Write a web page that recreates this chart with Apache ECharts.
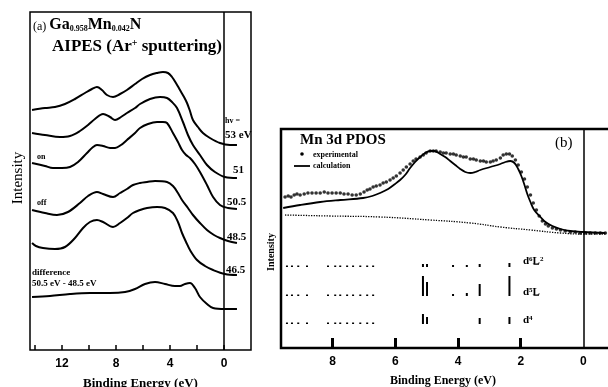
<!DOCTYPE html>
<html><head><meta charset="utf-8">
<script src="https://cdn.jsdelivr.net/npm/echarts@6/dist/echarts.min.js"></script>
<style>html,body{margin:0;padding:0;background:#fff}#c{width:608px;height:387px}</style>
</head><body><div id="c"></div>
<script>
// ---------- Panel (a): AIPES spectra, [binding energy (eV), intensity (arb.)] ----------
const curve53 = [[14.22,240],[13.26,242],[12.52,243],[11.78,246],[11.04,251],[10.30,257],[9.78,261],[9.41,263],[9.04,260],[8.67,255],[8.22,253],[7.70,256],[7.19,260],[6.59,266],[6.07,271],[5.48,275],[4.96,277],[4.52,278],[4.15,277],[3.85,273],[3.56,267],[3.26,260],[2.96,253],[2.74,247],[2.52,239],[2.30,230],[1.93,223],[1.56,217],[1.04,212],[0.30,207],[-0.44,205],[-0.96,205]];
const curve51 = [[14.22,217],[13.26,215],[12.15,213],[11.41,214],[10.67,219],[10.07,225],[9.56,231],[8.96,236],[8.44,233],[8.07,230],[7.63,233],[7.19,237],[6.59,242],[6.22,246],[5.48,251],[4.74,253],[4.22,252],[3.85,248],[3.48,242],[3.04,228],[2.67,215],[2.30,205],[1.78,195],[1.26,185],[0.67,178],[-0.07,173],[-0.96,172]];
const curveOn = [[14.22,187],[13.26,184],[12.67,182],[12.0,182],[11.41,183],[10.81,188],[10.15,197],[9.70,203],[9.41,205],[8.96,204],[8.44,202],[8.07,202],[7.63,205],[7.19,210],[6.59,217],[6.22,222],[5.63,226],[4.96,228],[4.52,228],[4.22,227],[3.78,217],[3.41,208],[3.11,200],[2.81,195],[2.52,192],[2.15,186],[1.78,178],[1.26,165],[0.81,153],[0.30,145],[-0.30,142],[-0.96,141]];
const curveOff = [[14.22,140],[13.26,137],[12.37,135],[11.56,138],[10.67,147],[10.07,154],[9.41,158],[8.96,156],[8.22,153],[7.70,157],[7.19,161],[6.74,165],[6.22,167],[5.70,168],[5.11,169],[4.22,168],[3.78,164],[3.41,157],[3.11,150],[2.67,142],[2.30,135],[1.78,127],[1.26,120],[0.74,115],[0.30,112],[-0.30,109],[-0.96,107]];
const curve465 = [[14.22,107],[13.93,104],[13.41,102],[12.52,101],[11.78,103],[11.04,112],[10.44,122],[9.93,128],[9.41,130],[8.96,128],[8.22,123],[7.70,127],[7.19,132],[6.74,137],[6.22,140],[5.70,142],[4.96,143],[4.37,142],[3.78,137],[3.41,128],[3.11,117],[2.81,108],[2.52,100],[2.0,90],[1.41,84],[0.81,80],[-0.07,76],[-0.96,75]];
const curveDiff = [[14.22,53],[12.89,54],[11.41,56],[9.93,57],[8.44,57],[7.33,58],[6.59,61],[5.85,66],[5.11,68],[4.37,66],[3.63,64],[3.26,64],[2.89,66],[2.52,67],[2.15,62],[1.78,53],[1.26,46],[0.81,42],[-0.07,41],[-0.96,41]];
const aTickLabels = [0,4,8,12];
const aTicks = [0,2,4,6,8,10,12,14];

// ---------- Panel (b): Mn 3d PDOS ----------
const expPoints = [[9.52,151],[9.42,152],[9.33,151],[9.23,153],[9.14,154],[9.04,153],[8.91,154],[8.79,155],[8.66,155],[8.53,155],[8.40,155],[8.27,156],[8.15,155],[8.02,155],[7.89,155],[7.76,155],[7.64,154],[7.51,154],[7.38,153],[7.25,153],[7.12,154],[7.00,156],[6.90,158],[6.81,159],[6.71,161],[6.61,162],[6.49,163],[6.39,165],[6.29,166],[6.17,168],[6.07,170],[5.97,172],[5.85,175],[5.75,178],[5.65,181],[5.53,184],[5.43,187],[5.34,189],[5.21,191],[5.11,193],[5.02,195],[4.89,197],[4.79,197],[4.70,197],[4.57,196],[4.47,195],[4.38,195],[4.25,194],[4.15,194],[4.06,193],[3.93,192],[3.83,191],[3.74,191],[3.61,189],[3.51,189],[3.42,188],[3.29,187],[3.19,187],[3.10,186],[2.97,186],[2.88,187],[2.78,188],[2.65,190],[2.56,193],[2.46,194],[2.36,194],[2.27,192],[2.17,188],[2.08,183],[1.98,176],[1.88,169],[1.79,161],[1.69,153],[1.60,145],[1.50,138],[1.41,132],[1.31,127],[1.21,124],[1.12,122],[0.99,120],[0.86,119],[0.73,118],[0.58,117],[0.42,116],[0.26,116],[0.10,115],[-0.06,115],[-0.22,115],[-0.38,115],[-0.54,115],[-0.70,115]];
const calcLine = [[9.58,140],[9.04,143],[8.40,146],[7.76,148],[7.03,150],[6.74,152],[6.49,155],[6.23,159],[6.01,164],[5.85,168],[5.69,173],[5.53,180],[5.37,186],[5.21,191],[5.05,195],[4.89,197],[4.76,197],[4.57,194],[4.41,191],[4.25,187],[4.09,183],[3.93,179],[3.77,176],[3.61,175],[3.45,176],[3.29,178],[2.97,181],[2.65,184],[2.49,186],[2.33,187],[2.20,185],[2.08,179],[1.98,172],[1.88,163],[1.79,154],[1.69,146],[1.57,138],[1.37,131],[1.21,126],[0.99,122],[0.73,119],[0.42,117],[0,116],[-0.70,115]];
const bgLine = [[9.52,133],[8.08,132],[6.49,131],[4.89,128],[3.61,125],[2.65,121],[1.69,118],[0.73,115],[0,114],[-0.70,114]];
// stick spectra: [energy, height], drawn up from each row's baseline
const leftStickE = [9.46,9.30,9.10,8.82,8.15,7.92,7.76,7.54,7.35,7.12,6.90,6.71];
const d6L2Base = 81, d5LBase = 52, d4Base = 24;
const d6L2Sticks = [[5.12,3],[4.99,3],[4.16,2],[3.72,2],[3.31,3],[2.36,4]];
const d5LSticks = [[5.12,20],[4.99,14],[4.16,2],[3.72,3],[3.31,12],[2.36,20]];
const d4Sticks = [[5.12,10],[4.99,7],[3.31,6],[2.36,7]];
const bTickLabels = [0,2,4,6,8];
const bTicks = [2,4,6,8];

const serif = "'Liberation Serif','Times New Roman',serif";
const sans = "'Liberation Sans',Arial,sans-serif";

function stickRow(base, sticks) {
  const rows = leftStickE.map(e => [e, base, 1.5]);
  sticks.forEach(s => rows.push([s[0], base, s[1]]));
  return rows;
}
const stickData = [].concat(stickRow(d6L2Base, d6L2Sticks), stickRow(d5LBase, d5LSticks), stickRow(d4Base, d4Sticks));

function lineA(data) {
  return {type:'line', xAxisIndex:0, yAxisIndex:0, data, smooth:0.35, symbol:'none',
    lineStyle:{color:'#000', width:2}, silent:true};
}
const vline = {silent:true, symbol:'none', label:{show:false}, lineStyle:{color:'#000', width:1.5, type:'solid'}, data:[{xAxis:0}]};

const chart = echarts.init(document.getElementById('c'), null, {renderer:'canvas'});
const s53 = lineA(curve53); s53.markLine = vline;
chart.setOption({
  animation:false,
  backgroundColor:'#fff',
  grid:[
    {left:30, top:12, width:221, height:338, show:true, borderColor:'#000', borderWidth:1.5, backgroundColor:'transparent', containLabel:false, outerBoundsMode:'none'},
    {left:281, top:129, width:340, height:219, show:true, borderColor:'#000', borderWidth:2.5, backgroundColor:'transparent', containLabel:false, outerBoundsMode:'none'}
  ],
  xAxis:[
    {gridIndex:0, type:'value', inverse:true, min:-2, max:14.37,
     axisLine:{show:false}, splitLine:{show:false},
     axisTick:{show:true, inside:true, length:5, lineStyle:{color:'#000', width:1.5}, customValues:aTicks},
     axisLabel:{color:'#000', fontFamily:sans, fontWeight:'bold', fontSize:12, margin:8, customValues:aTickLabels},
     name:'Binding Energy (eV)', nameLocation:'middle', nameGap:27,
     nameTextStyle:{color:'#000', fontFamily:serif, fontWeight:'bold', fontSize:13}},
    {gridIndex:1, type:'value', inverse:true, min:-1.2, max:9.65,
     axisLine:{show:false}, splitLine:{show:false},
     axisTick:{show:true, inside:true, length:10, lineStyle:{color:'#000', width:3}, customValues:bTicks},
     axisLabel:{color:'#000', fontFamily:sans, fontWeight:'bold', fontSize:12, margin:8, customValues:bTickLabels},
     name:'Binding Energy (eV)', nameLocation:'middle', nameGap:27,
     nameTextStyle:{color:'#000', fontFamily:serif, fontWeight:'bold', fontSize:12, padding:[0,16,0,0]}}
  ],
  yAxis:[
    {gridIndex:0, type:'value', min:0, max:338, show:false},
    {gridIndex:1, type:'value', min:0, max:219, show:false}
  ],
  series:[
    s53, lineA(curve51), lineA(curveOn), lineA(curveOff), lineA(curve465), lineA(curveDiff),
    {type:'scatter', xAxisIndex:1, yAxisIndex:1, data:expPoints, symbol:'circle', symbolSize:3.6,
     itemStyle:{color:'#000'}, silent:true},
    {type:'line', xAxisIndex:1, yAxisIndex:1, data:calcLine, smooth:0.35, symbol:'none',
     lineStyle:{color:'#000', width:1.8}, silent:true,
     markLine:{silent:true, symbol:'none', label:{show:false}, lineStyle:{color:'#000', width:1.5, type:'solid'}, data:[{xAxis:0}]}},
    {type:'line', xAxisIndex:1, yAxisIndex:1, data:bgLine, smooth:true, symbol:'none',
     lineStyle:{color:'#000', width:1.3, type:[1.3,1.3]}, silent:true},
    {type:'custom', xAxisIndex:1, yAxisIndex:1, data:stickData, silent:true,
     renderItem:function(params, api){
       const e = api.value(0), b = api.value(1), h = api.value(2);
       const p0 = api.coord([e, b]), p1 = api.coord([e, b + h]);
       return {type:'rect', shape:{x:p0[0]-1, y:p1[1], width:2, height:Math.max(1.5, p0[1]-p1[1])}, style:{fill:'#000'}};
     }}
  ],
  graphic:[
    {type:'text', x:33, y:25, style:{text:'{n|(a) }{b|Ga}{s|0.958}{b|Mn}{s|0.042}{b|N}', fill:'#000', textVerticalAlign:'middle',
      rich:{n:{fontFamily:serif, fontSize:12, verticalAlign:'bottom'}, b:{fontFamily:serif, fontSize:16, fontWeight:'bold', verticalAlign:'bottom'}, s:{fontFamily:serif, fontSize:8, fontWeight:'bold', verticalAlign:'bottom'}}}},
    {type:'text', x:52, y:47, style:{text:'{b|AIPES (Ar}{p|+}{b| sputtering)}', fill:'#000', textVerticalAlign:'middle',
      rich:{b:{fontFamily:serif, fontSize:17, fontWeight:'bold'}, p:{fontFamily:serif, fontSize:10, fontWeight:'bold', verticalAlign:'top', padding:[0,0,8,0]}}}},
    {type:'text', x:18, y:178, rotation:Math.PI/2, style:{text:'Intensity', font:'15px '+serif, fill:'#000', textAlign:'center', textVerticalAlign:'middle'}},
    {type:'text', x:225, y:121, style:{text:'hv =', font:'bold 8px '+serif, fill:'#000', textVerticalAlign:'middle'}},
    {type:'text', x:225, y:135, style:{text:'53 eV', font:'bold 11px '+serif, fill:'#000', textVerticalAlign:'middle'}},
    {type:'text', x:233, y:170, style:{text:'51', font:'bold 11px '+serif, fill:'#000', textVerticalAlign:'middle'}},
    {type:'text', x:227, y:202, style:{text:'50.5', font:'bold 11px '+serif, fill:'#000', textVerticalAlign:'middle'}},
    {type:'text', x:227, y:237, style:{text:'48.5', font:'bold 11px '+serif, fill:'#000', textVerticalAlign:'middle'}},
    {type:'text', x:226, y:270, style:{text:'46.5', font:'bold 11px '+serif, fill:'#000', textVerticalAlign:'middle'}},
    {type:'text', x:37, y:157, style:{text:'on', font:'bold 8px '+serif, fill:'#000', textVerticalAlign:'middle'}},
    {type:'text', x:37, y:203, style:{text:'off', font:'bold 8px '+serif, fill:'#000', textVerticalAlign:'middle'}},
    {type:'text', x:32, y:273, style:{text:'difference', font:'bold 9px '+serif, fill:'#000', textVerticalAlign:'middle'}},
    {type:'text', x:32, y:284, style:{text:'50.5 eV - 48.5 eV', font:'bold 9px '+serif, fill:'#000', textVerticalAlign:'middle'}},
    // panel b
    {type:'text', x:300, y:140, style:{text:'Mn 3d PDOS', font:'bold 15px '+serif, fill:'#000', textVerticalAlign:'middle'}},
    {type:'text', x:555, y:143, style:{text:'(b)', font:'15px '+serif, fill:'#000', textVerticalAlign:'middle'}},
    {type:'circle', shape:{cx:302, cy:154, r:1.8}, style:{fill:'#000'}},
    {type:'text', x:313, y:155, style:{text:'experimental', font:'bold 8px '+serif, fill:'#000', textVerticalAlign:'middle'}},
    {type:'line', shape:{x1:294, y1:166, x2:310, y2:166}, style:{stroke:'#000', lineWidth:1.8}},
    {type:'text', x:313, y:166, style:{text:'calculation', font:'bold 8px '+serif, fill:'#000', textVerticalAlign:'middle'}},
    {type:'text', x:271, y:252, rotation:Math.PI/2, style:{text:'Intensity', font:'bold 10px '+serif, fill:'#000', textAlign:'center', textVerticalAlign:'middle'}},
    {type:'text', x:523, y:261, style:{text:'{b|d}{p|6}{b|L̲}{p|2}', fill:'#000', textVerticalAlign:'middle',
      rich:{b:{fontFamily:serif, fontSize:11, fontWeight:'bold'}, p:{fontFamily:serif, fontSize:7, fontWeight:'bold', verticalAlign:'top'}}}},
    {type:'text', x:523, y:292, style:{text:'{b|d}{p|5}{b|L̲}', fill:'#000', textVerticalAlign:'middle',
      rich:{b:{fontFamily:serif, fontSize:11, fontWeight:'bold'}, p:{fontFamily:serif, fontSize:7, fontWeight:'bold', verticalAlign:'top'}}}},
    {type:'text', x:523, y:320, style:{text:'{b|d}{p|4}', fill:'#000', textVerticalAlign:'middle',
      rich:{b:{fontFamily:serif, fontSize:11, fontWeight:'bold'}, p:{fontFamily:serif, fontSize:7, fontWeight:'bold', verticalAlign:'top'}}}}
  ]
});
</script></body></html>
